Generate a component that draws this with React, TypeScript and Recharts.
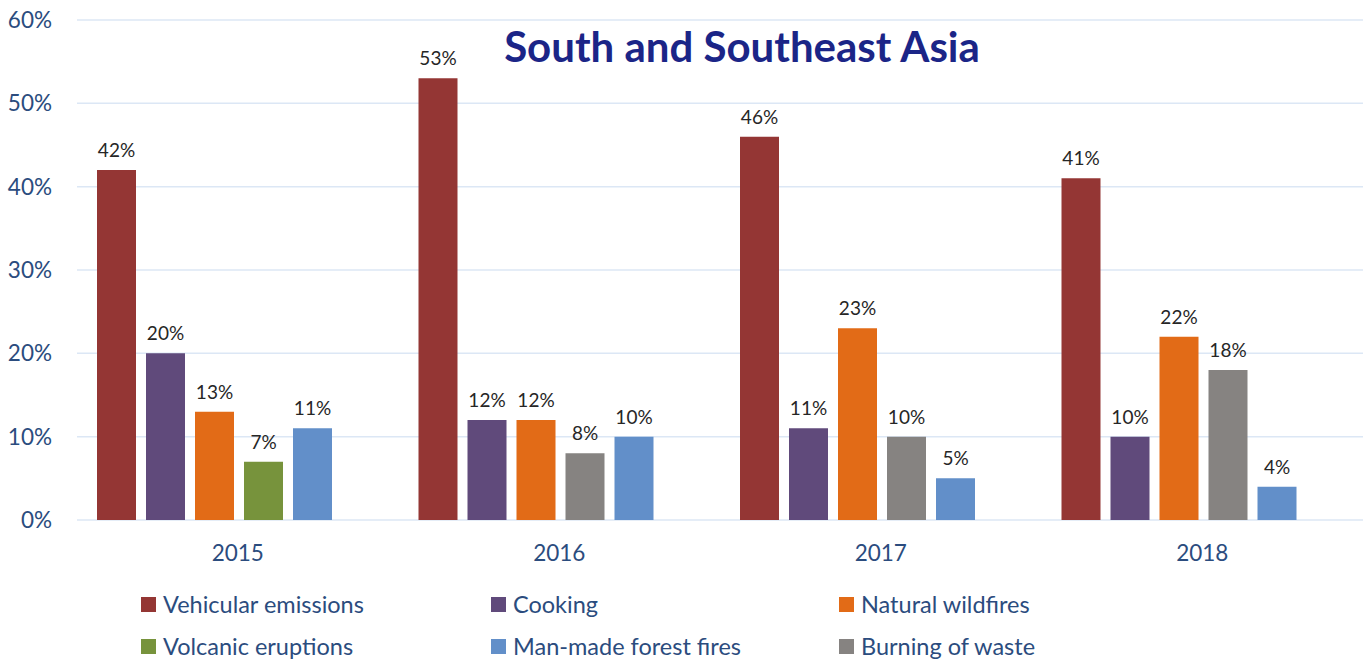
import React from 'react';
import { BarChart, Bar, XAxis, YAxis, CartesianGrid, Cell, LabelList } from 'recharts';

const years = ['2015', '2016', '2017', '2018'];
const vehicular = [42, 53, 46, 41];
const cooking = [20, 12, 11, 10];
const naturalFires = [13, 12, 23, 22];
const volcanic: (number | null)[] = [7, null, null, null];
const manMade = [11, 10, 5, 4];
const burning: (number | null)[] = [null, 8, 10, 18];
const yTicks = [0, 10, 20, 30, 40, 50, 60];

const seriesNames = [
  'Vehicular emissions',
  'Cooking',
  'Natural wildfires',
  'Volcanic eruptions',
  'Man-made forest fires',
  'Burning of waste',
];

const COLORS = {
  vehicular: '#943634',
  cooking: '#604a7b',
  natural: '#e26b17',
  volcanic: '#77933c',
  manMade: '#628fc9',
  burning: '#868381',
};
const legendColors = [
  COLORS.vehicular,
  COLORS.cooking,
  COLORS.natural,
  COLORS.volcanic,
  COLORS.manMade,
  COLORS.burning,
];

const data = years.map((y, i) => ({
  year: y,
  vehicular: vehicular[i],
  cooking: cooking[i],
  natural: naturalFires[i],
  fourth: volcanic[i] != null ? volcanic[i] : burning[i],
  fourthColor: volcanic[i] != null ? COLORS.volcanic : COLORS.burning,
  manMade: manMade[i],
}));

const FONT = 'Lato, "Noto Sans", sans-serif';
const AXIS_COLOR = '#2b4c7e';
const LABEL_COLOR = '#262626';

const labelProps = {
  position: 'top' as const,
  offset: 13,
  formatter: (v: any) => (v == null ? '' : `${v}%`),
  fill: LABEL_COLOR,
  fontSize: 19,
  fontFamily: FONT,
};

const legendCols = [141, 491, 839];
const legendRows = [604, 646];

export default function App() {
  return (
    <div style={{ position: 'absolute', left: 0, top: 0, width: 1371, height: 660, background: '#fff', fontFamily: FONT }}>
      <BarChart
        width={1371}
        height={660}
        data={data}
        margin={{ top: 20, right: 8, left: 0, bottom: 110 }}
        barCategoryGap={20}
        barGap={10}
      >
        <CartesianGrid vertical={false} stroke="#dce7f5" strokeWidth={1.5} />
        <XAxis
          dataKey="year"
          height={30}
          axisLine={false}
          tickLine={false}
          tickSize={0}
          tickMargin={25}
          tick={{ fill: AXIS_COLOR, fontSize: 22.5, fontFamily: FONT }}
        />
        <YAxis
          width={77}
          domain={[0, 60]}
          ticks={yTicks}
          axisLine={false}
          tickLine={false}
          tickSize={0}
          tickMargin={25}
          tickFormatter={(v: number) => `${v}%`}
          tick={{ fill: AXIS_COLOR, fontSize: 22.5, fontFamily: FONT }}
        />
        <Bar dataKey="vehicular" fill={COLORS.vehicular} isAnimationActive={false}>
          <LabelList dataKey="vehicular" {...labelProps} />
        </Bar>
        <Bar dataKey="cooking" fill={COLORS.cooking} isAnimationActive={false}>
          <LabelList dataKey="cooking" {...labelProps} />
        </Bar>
        <Bar dataKey="natural" fill={COLORS.natural} isAnimationActive={false}>
          <LabelList dataKey="natural" {...labelProps} />
        </Bar>
        <Bar dataKey="fourth" fill={COLORS.burning} isAnimationActive={false}>
          {data.map((d, i) => (
            <Cell key={i} fill={d.fourthColor} />
          ))}
          <LabelList dataKey="fourth" {...labelProps} />
        </Bar>
        <Bar dataKey="manMade" fill={COLORS.manMade} isAnimationActive={false}>
          <LabelList dataKey="manMade" {...labelProps} />
        </Bar>
        <Bar dataKey="reservedSlot" fill="none" isAnimationActive={false} />
      </BarChart>

      <div
        style={{
          position: 'absolute',
          left: 0,
          width: 1484,
          top: 25,
          textAlign: 'center',
          fontSize: 42,
          lineHeight: 1,
          fontWeight: 700,
          color: '#1b2587',
          fontFamily: FONT,
          pointerEvents: 'none',
        }}
      >
        South and Southeast Asia
      </div>

      {seriesNames.map((name, i) => {
        const col = i % 3;
        const row = Math.floor(i / 3);
        return (
          <div
            key={name}
            style={{
              position: 'absolute',
              left: legendCols[col],
              top: legendRows[row] - 15,
              height: 30,
              display: 'flex',
              alignItems: 'center',
              whiteSpace: 'nowrap',
            }}
          >
            <span style={{ display: 'inline-block', width: 15, height: 15, background: legendColors[i], marginRight: 7 }} />
            <span style={{ fontSize: 23.5, color: AXIS_COLOR, fontFamily: FONT }}>{name}</span>
          </div>
        );
      })}
    </div>
  );
}
